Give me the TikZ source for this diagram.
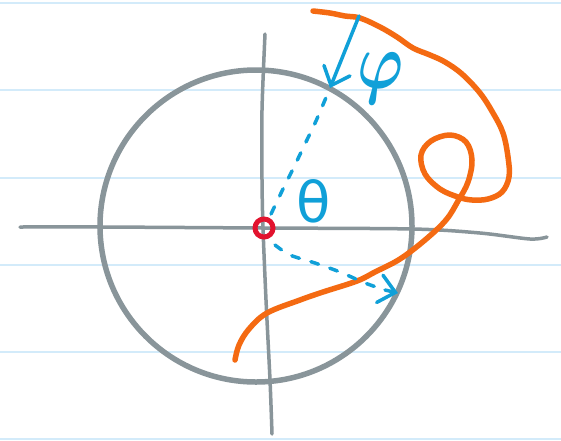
\documentclass[tikz,border=0pt]{standalone}
\usepackage{graphicx}
\usepackage{fontspec}
\newfontfamily\greekfont{DejaVu Sans}
\usetikzlibrary{arrows.meta}
\definecolor{rulecol}{HTML}{D3EBFA}
\definecolor{axisgray}{HTML}{89959A}
\definecolor{curveorange}{HTML}{F46A12}
\definecolor{penblue}{HTML}{10A0D8}
\definecolor{dotred}{HTML}{E2132E}

\begin{document}
\begin{tikzpicture}[x=1pt, y=-1pt,
 rule/.style={rulecol, line width=1.5pt},
 axis/.style={axisgray, line width=3.5pt, line cap=round, line join=round},
 ring/.style={axisgray, line width=5.5pt},
 path/.style={curveorange, line width=5.5pt, line cap=round, line join=round},
 guide/.style={penblue, line width=3.5pt, line cap=round, dash pattern=on 8pt off 12pt},
 pointer/.style={penblue, line width=3.5pt, line cap=round, -{Straight Barb[length=16pt, width=28pt, line cap=round]}},
 anglelabel/.style={penblue, inner sep=0pt},
 thetalabel/.style={anglelabel, font=\greekfont\fontsize{56}{56}\selectfont},
]
\useasboundingbox (0,0) rectangle (561,440);
\fill[white] (0,0) rectangle (561,440);

% ruled paper
\foreach \y in {3,90,178,265,352,439}
  \draw[rule] (0,\y) -- (561,\y);

% sphere outline and axes
\draw[ring] (256,226) circle (156);
\draw[axis] plot[smooth] coordinates {(265,34) (262,110) (262,180) (263,228) (266,300) (270,380) (272,434)};
\draw[axis] plot[smooth] coordinates {(20,227) (100,227) (263,228) (413,229) (480,233) (530,239) (547,237)};

% orange path with loop
\draw[path] plot[smooth, tension=0.6] coordinates {
  (313,11) (330,13) (345,16) (360,18) (380,27) (397,37) (413,48) (430,55)
  (445,62) (462,74) (480,93) (493,113) (503,133) (508,157) (509,177) (502,192)
  (488,199) (472,200) (458,197) (440,189) (425,174) (421,155) (431,141) (450,135)
  (466,142) (472,160) (468,182) (458,201) (446,220) (425,240) (400,259) (375,272)
  (357,281) (323,292) (300,300) (267,313) (249,329) (239,345) (235,360)};

% points
\coordinate (origin) at (264,228);
\coordinate (onsphere) at (330,88);
\coordinate (top) at (359,16);
\coordinate (equator) at (398,293);

% radius and azimuth guides
\draw[guide] plot[smooth] coordinates {(271,214) (283,189) (294,167) (304,146) (316,121) (onsphere)};
\draw[guide] plot[smooth] coordinates {(275,245) (290,255) (315,263) (340,272) (365,283) (385,290)};
\draw[pointer] (385,290) -- (equator);
\draw[pointer] (top) -- (onsphere);

% origin mark
\draw[dotred, line width=5pt] (origin) circle (9);

% angle labels
\node[anglelabel] (phi) at (381,78) {\scalebox{6.2}[8]{\boldmath$\varphi$}};
\node[thetalabel] (theta) at (314,201) {θ};
\end{tikzpicture}
\end{document}
